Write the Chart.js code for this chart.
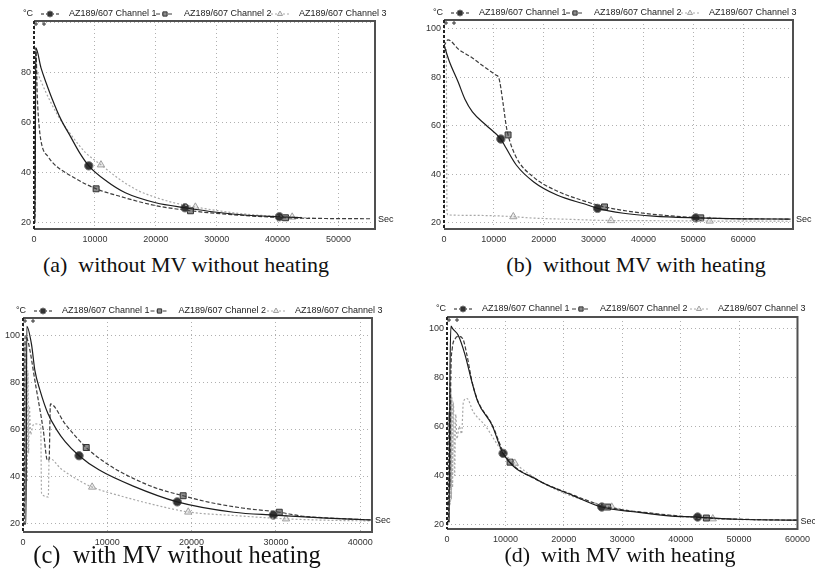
<!DOCTYPE html>
<html>
<head>
<meta charset="utf-8">
<script src="https://cdn.jsdelivr.net/npm/chart.js@4.4.1/dist/chart.umd.min.js"></script>
<style>
  html, body { margin: 0; padding: 0; background: #fff; }
  body { width: 815px; height: 580px; position: relative; overflow: hidden; }
  .panel { position: absolute; }
  .caption {
    position: absolute; white-space: pre; line-height: 22px;
    font-family: "Liberation Serif", "Times New Roman", serif; font-size: 22px; color: #111;
    transform: translateX(-50%);
  }
</style>
</head>
<body>
<div class="panel" style="left:0;top:0"><canvas id="chartA" width="405" height="250"></canvas></div>
<div class="panel" style="left:405px;top:0"><canvas id="chartB" width="410" height="250"></canvas></div>
<div class="panel" style="left:0;top:290px"><canvas id="chartC" width="405" height="260"></canvas></div>
<div class="panel" style="left:405px;top:290px"><canvas id="chartD" width="410" height="260"></canvas></div>
<div class="caption" id="capA" style="left:186px;top:254px"></div>
<div class="caption" id="capB" style="left:636px;top:254px"></div>
<div class="caption" id="capC" style="left:177px;top:544px;font-size:24.5px"></div>
<div class="caption" id="capD" style="left:620px;top:544px"></div>

<script>
const seriesNames = ['AZ189/607 Channel 1', 'AZ189/607 Channel 2', 'AZ189/607 Channel 3'];
const yUnit = '°C';
const xUnit = 'Sec';
const captions = [
  '(a)  without MV without heating',
  '(b)  without MV with heating',
  '(c)  with MV without heating',
  '(d)  with MV with heating'
];

// (a) without MV without heating
const aCh1 = [[0,20],[150,20],[300,90],[1150,82],[2000,76],[3000,69.5],[4400,61.5],[6000,54.5],[7500,48],[9000,42.8],[12000,36.5],[15000,32],[20000,28],[24800,26],[30000,24.2],[35000,23],[40300,22.4],[44000,22]];
const aCh2 = [[0,20],[150,20],[300,90],[550,70],[850,58.5],[1300,51],[2300,46.5],[3300,43.5],[6600,38],[10200,33.6],[13800,30.8],[19700,27],[25700,24.8],[32800,23.2],[41300,22],[48000,21.7],[55500,21.6]];
const aCh3 = [[0,20],[150,20],[300,81],[1000,77.5],[2000,72],[3900,63],[6000,55.5],[8500,48],[11000,43.2],[14000,37.5],[17000,33],[19700,30.4],[23000,28],[26500,26.3],[32800,24],[37000,23],[42400,22.3],[46000,21.8]];
const aMarks1 = [[9000,42.8],[24800,26],[40300,22.4]];
const aMarks2 = [[10200,33.6],[25700,24.8],[41300,22]];
const aMarks3 = [[11000,43.2],[26500,26.3],[42400,22.3]];
const aXTicks = [0, 10000, 20000, 30000, 40000, 50000];
const aYTicks = [20, 40, 60, 80, 100];
const aYLabels = ['20', '40', '60', '80', ''];

// (b) without MV with heating
const bCh1 = [[0,93.4],[1000,87],[2860,78],[4200,71],[5700,65.8],[8400,60.4],[11400,54.6],[12450,50.9],[14500,43.9],[18000,36.9],[22650,31.5],[28800,27.4],[30800,26],[36000,24],[42000,22.8],[50500,22.1],[60000,21.7],[69500,21.6]];
const bCh2 = [[0,93],[800,95.5],[3000,91.5],[5700,88],[8000,84.5],[10400,81],[11000,79.8],[11800,70],[12450,60.4],[12850,56.3],[14500,47],[18000,38.8],[22650,33.2],[28800,28.6],[32200,26.6],[40000,24],[45000,23],[51500,22.1],[60000,21.7],[69500,21.6]];
const bCh3 = [[0,92.5],[450,92.5],[600,24.5],[800,23.3],[7000,23.1],[13900,22.6],[17000,22.1],[25000,21.5],[33500,21],[45000,20.9],[53300,20.8],[69500,20.7]];
const bMarks1 = [[11400,54.6],[30800,26],[50500,22.1]];
const bMarks2 = [[12850,56.3],[32200,26.6],[51500,22.1]];
const bMarks3 = [[13900,22.6],[33500,21],[53300,20.8]];
const bXTicks = [0, 10000, 20000, 30000, 40000, 50000, 60000];
const bYTicks = [20, 40, 60, 80, 100];
const bYLabels = ['20', '40', '60', '80', '100'];

// (c) with MV without heating
const cCh1 = [[0,20],[350,20],[450,104],[1000,96.5],[1420,85],[2000,77],[2970,66.8],[4000,60],[5000,55],[6650,49],[9000,43],[13000,36.2],[18300,29.4],[25000,25],[29700,23.8],[36000,22.5],[41400,21.7]];
const cCh2 = [[0,20],[150,20],[250,100],[600,97.5],[1500,79],[2400,60],[2900,47],[3100,47.5],[3250,71],[5000,62.5],[7500,52.5],[10000,45.5],[13000,39.5],[16000,35],[19000,32],[22000,29.3],[26000,26.8],[30400,25],[33000,23.4],[36000,22.6],[41400,21.7]];
const cCh3 = [[0,20],[100,95],[180,24],[260,98],[340,30],[420,92],[500,38],[580,85],[660,50],[760,70],[900,58],[1200,62],[1500,62.5],[2100,62],[2200,33],[3000,31.5],[3100,48],[4500,43.5],[6400,39],[8200,35.7],[12000,31.5],[16000,27.8],[19600,25.1],[25000,23.6],[31200,22.2],[36000,21.6],[41400,21.3]];
const cMarks1 = [[6650,49],[18300,29.4],[29700,23.8]];
const cMarks2 = [[7500,52.5],[19000,32],[30400,25]];
const cMarks3 = [[8200,35.7],[19600,25.1],[31200,22.2]];
const cXTicks = [0, 10000, 20000, 30000, 40000];
const cYTicks = [20, 40, 60, 80, 100];
const cYLabels = ['20', '40', '60', '80', '100'];

// (d) with MV with heating
const dCh1 = [[0,21],[350,21],[500,80],[680,101.2],[1000,100],[1900,97.5],[3100,89.3],[4270,78.2],[5300,70],[7700,60.6],[9600,49],[15600,38],[21400,31.9],[26500,27],[32600,24.9],[38500,23.3],[42900,22.9],[49700,22],[60000,21.6]];
const dCh2 = [[0,21],[250,21],[350,66],[500,35],[650,80],[900,92],[1400,96],[1900,97],[2700,96],[3400,89.5],[4270,78.6],[5300,70.4],[7700,60.9],[9600,49.8],[10800,45.4],[15000,38.6],[21000,32.5],[27500,27],[35000,24.5],[44400,22.5],[52000,21.9],[60000,21.6]];
const dCh3 = [[0,20],[350,20],[450,78],[550,28],[650,75],[750,30],[850,72],[950,35],[1100,70],[1300,40],[1500,65],[1700,55],[2100,60],[2500,57],[2800,70],[3400,71.5],[4500,66],[6500,60.5],[9400,50],[11600,45],[16000,37.5],[21000,31.8],[28200,27],[35000,24.3],[45500,22.2],[52000,21.8],[60000,21.5]];
const dMarks1 = [[9600,49],[26500,27],[42900,22.9]];
const dMarks2 = [[10800,45.4],[27500,27],[44400,22.5]];
const dMarks3 = [[11600,45],[28200,27],[45500,22.2]];
const dXTicks = [0, 10000, 20000, 30000, 40000, 50000, 60000];
const dYTicks = [20, 40, 60, 80, 100];
const dYLabels = ['20', '40', '60', '80', '100'];

const tickFont = '"Liberation Sans", Arial, sans-serif';

// line / marker look of each channel
const seriesStyles = [
  { color: '#1c1c1c', dash: [], point: 'circle', fill: '#333', edge: '#777' },
  { color: '#3c3c3c', dash: [4, 2], point: 'rect', fill: '#8c8c8c', edge: '#333' },
  { color: '#a8a8a8', dash: [2, 2], point: 'triangle', fill: '#ececec', edge: '#a0a0a0' }
];

const toXY = arr => arr.map(p => ({ x: p[0], y: p[1] }));

// frame, cursor crosses, legend row, unit labels
const framePlugin = {
  id: 'frame',
  afterDatasetsDraw(chart, args, opts) {
    const { ctx, chartArea: a } = chart;
    const yScale = chart.scales.y;
    ctx.save();
    ctx.lineWidth = 2;
    ctx.strokeStyle = '#505050';
    ctx.beginPath();
    ctx.moveTo(a.left, a.top);
    ctx.lineTo(a.right, a.top);
    ctx.lineTo(a.right, a.bottom);
    ctx.lineTo(a.left, a.bottom);
    ctx.stroke();
    ctx.setLineDash([3, 2]);
    ctx.strokeStyle = '#222';
    ctx.beginPath();
    ctx.moveTo(a.left, a.top);
    ctx.lineTo(a.left, a.bottom);
    ctx.stroke();
    ctx.setLineDash([]);

    // small cursor crosses in the top-left corner
    ctx.lineWidth = 1;
    ctx.strokeStyle = '#333';
    [2, 10].forEach(dx => {
      const cx = a.left + dx, cy = a.top + 3;
      ctx.beginPath();
      ctx.moveTo(cx - 2, cy); ctx.lineTo(cx + 2, cy);
      ctx.moveTo(cx, cy - 2); ctx.lineTo(cx, cy + 2);
      ctx.stroke();
    });

    // legend row
    ctx.font = '9px ' + tickFont;
    ctx.fillStyle = '#222';
    ctx.textBaseline = 'middle';
    ctx.textAlign = 'center';
    ctx.fillText(yUnit, opts.legendX - 22, opts.legendY);
    seriesNames.forEach((name, i) => {
      const st = seriesStyles[i];
      const cx = opts.legendX + i * opts.pitch;
      ctx.strokeStyle = st.color;
      ctx.lineWidth = 1;
      ctx.setLineDash(st.dash.length ? st.dash : [3, 2]);
      ctx.beginPath();
      ctx.moveTo(cx - 9, opts.legendY);
      ctx.lineTo(cx + 9, opts.legendY);
      ctx.stroke();
      ctx.setLineDash([]);
      ctx.fillStyle = st.fill;
      ctx.strokeStyle = st.edge;
      Chart.helpers.drawPoint(ctx, { pointStyle: st.point, radius: 3, rotation: 0, borderWidth: 1 }, cx, opts.legendY);
      ctx.fillStyle = '#222';
      ctx.textAlign = 'left';
      ctx.fillText(name, cx + 19, opts.legendY);
    });

    // x unit at the right end of the axis
    ctx.textAlign = 'left';
    ctx.fillStyle = '#222';
    ctx.fillText(xUnit, a.right + 3, yScale.getPixelForValue(20) - 3);
    ctx.restore();
  }
};

function makePanel(id, series, marks, xMax, yMin, yMax, xTicks, yTicks, yLabels, box, legend) {
  const datasets = [];
  series.forEach((s, i) => {
    const st = seriesStyles[i];
    datasets.push({
      label: seriesNames[i],
      data: toXY(s),
      borderColor: st.color,
      borderDash: st.dash,
      borderWidth: 1.2,
      pointRadius: 0,
      cubicInterpolationMode: 'monotone',
      fill: false
    });
  });
  marks.forEach((m, i) => {
    const st = seriesStyles[i];
    datasets.push({
      label: seriesNames[i] + ' markers',
      data: toXY(m),
      showLine: false,
      pointStyle: st.point,
      pointRadius: 4.2,
      pointBackgroundColor: st.fill,
      pointBorderColor: st.edge,
      pointBorderWidth: 1
    });
  });

  return new Chart(document.getElementById(id), {
    type: 'line',
    data: { datasets },
    options: {
      responsive: false,
      animation: false,
      layout: { padding: { left: 0, top: box.top, right: box.right, bottom: 0 } },
      plugins: {
        legend: { display: false },
        tooltip: { enabled: false },
        frame: legend
      },
      scales: {
        x: {
          type: 'linear', min: 0, max: xMax,
          afterBuildTicks: s => { s.ticks = xTicks.map(v => ({ value: v })); },
          afterFit: s => { s.height = box.xh; },
          grid: { color: '#b0b0b0', lineWidth: 1, drawTicks: false },
          border: { display: false, dash: [1, 3] },
          ticks: {
            font: { family: tickFont, size: 9 }, color: '#333', padding: 5,
            maxRotation: 0, autoSkip: false,
            callback: v => String(v)
          }
        },
        y: {
          type: 'linear', min: yMin, max: yMax,
          afterBuildTicks: s => { s.ticks = yTicks.map(v => ({ value: v })); },
          afterFit: s => { s.width = box.yw; },
          grid: { color: '#b0b0b0', lineWidth: 1, drawTicks: false },
          border: { display: false, dash: [1, 3] },
          ticks: {
            font: { family: tickFont, size: 9 }, color: '#333', padding: 3,
            callback: (v, i) => yLabels[i]
          }
        }
      }
    },
    plugins: [framePlugin]
  });
}

makePanel('chartA', [aCh1, aCh2, aCh3], [aMarks1, aMarks2, aMarks3], 56000, 17.5, 100.8,
  aXTicks, aYTicks, aYLabels, { top: 21, right: 30, xh: 21, yw: 34 },
  { legendX: 50, legendY: 14, pitch: 115 });
makePanel('chartB', [bCh1, bCh2, bCh3], [bMarks1, bMarks2, bMarks3], 70000, 17.5, 103.7,
  bXTicks, bYTicks, bYLabels, { top: 20, right: 22, xh: 21, yw: 39 },
  { legendX: 55, legendY: 13, pitch: 115 });
makePanel('chartC', [cCh1, cCh2, cCh3], [cMarks1, cMarks2, cMarks3], 41400, 16.6, 107.5,
  cXTicks, cYTicks, cYLabels, { top: 28, right: 33, xh: 18, yw: 23 },
  { legendX: 43, legendY: 21, pitch: 116.5 });
makePanel('chartD', [dCh1, dCh2, dCh3], [dMarks1, dMarks2, dMarks3], 60000, 18, 104.9,
  dXTicks, dYTicks, dYLabels, { top: 27, right: 17, xh: 21, yw: 42 },
  { legendX: 58, legendY: 19, pitch: 118 });

['capA', 'capB', 'capC', 'capD'].forEach((id, i) => {
  document.getElementById(id).textContent = captions[i];
});
</script>
</body>
</html>
